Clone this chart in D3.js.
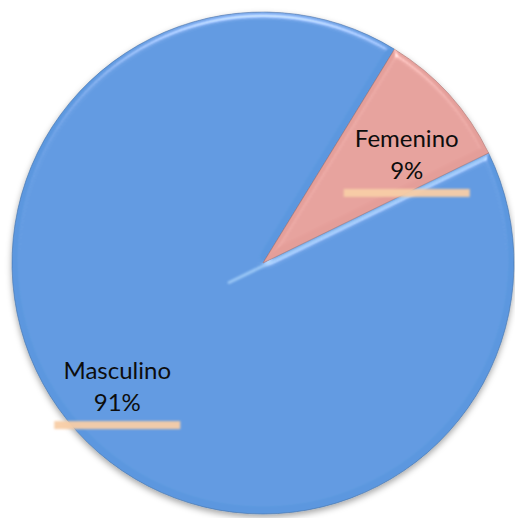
<!DOCTYPE html>
<html>
<head>
<meta charset="utf-8">
<script src="https://cdn.jsdelivr.net/npm/d3@7"></script>
<style>
  body { margin: 0; background: #fff; }
  svg { display: block; }
  .label text { font-family: Lato, "Open Sans", sans-serif; font-size: 24px; fill: #0d0d0d; }
</style>
</head>
<body>
<svg width="515" height="518"></svg>
<script>
// data
var categories = ["Masculino", "Femenino"];
var values = [91, 9];
var colors = ["#5b97df", "#e49e99"];

var svg = d3.select("svg"),
    width = +svg.attr("width"),
    height = +svg.attr("height"),
    cx = 263, cy = 263,
    radius = 251;

var defs = svg.append("defs");

// soft shadow under the pie
var shadow = defs.append("filter").attr("id", "shadow")
    .attr("x", "-10%").attr("y", "-10%").attr("width", "120%").attr("height", "120%");
shadow.append("feDropShadow")
    .attr("dx", 0).attr("dy", 3).attr("stdDeviation", 3)
    .attr("flood-color", "#000").attr("flood-opacity", 0.35);

// bevel-ish rim light on each slice
var bevel = defs.append("filter").attr("id", "bevel")
    .attr("x", "-5%").attr("y", "-5%").attr("width", "110%").attr("height", "110%");
bevel.append("feGaussianBlur").attr("in", "SourceAlpha").attr("stdDeviation", 3).attr("result", "blur");
bevel.append("feSpecularLighting")
    .attr("in", "blur").attr("surfaceScale", 4).attr("specularConstant", 0.7)
    .attr("specularExponent", 30).attr("lighting-color", "#ffffff").attr("result", "spec")
  .append("feDistantLight").attr("azimuth", 270).attr("elevation", 40);
bevel.append("feComposite").attr("in", "spec").attr("in2", "SourceAlpha").attr("operator", "in").attr("result", "specOut");
bevel.append("feComposite").attr("in", "SourceGraphic").attr("in2", "specOut")
    .attr("operator", "arithmetic").attr("k1", 0).attr("k2", 1).attr("k3", 0.6).attr("k4", 0);

// blur for label bands and edge highlight
defs.append("filter").attr("id", "soft")
    .attr("x", "-10%").attr("y", "-50%").attr("width", "120%").attr("height", "200%")
  .append("feGaussianBlur").attr("stdDeviation", 1.2);

var data = categories.map(function(c, i) { return {name: c, value: values[i], color: colors[i]}; });
var total = d3.sum(values);

var start = 64 * Math.PI / 180;
var pie = d3.pie()
    .sort(null)
    .value(function(d) { return d.value; })
    .startAngle(start)
    .endAngle(start + 2 * Math.PI);

var arcs = pie(data);

var arc = d3.arc().innerRadius(0).outerRadius(radius);
var labelArc = d3.arc().innerRadius(radius * 0.73).outerRadius(radius * 0.73);

var g = svg.append("g")
    .attr("transform", "translate(" + cx + "," + cy + ")");

var slices = g.append("g").attr("filter", "url(#shadow)");

slices.selectAll("path")
    .data(arcs)
  .enter().append("path")
    .attr("d", arc)
    .attr("fill", function(d) { return d.data.color; })
    .attr("stroke", function(d) { return d3.color(d.data.color).darker(0.8); })
    .attr("stroke-width", 1)
    .attr("stroke-opacity", 0.6)
    .attr("filter", "url(#bevel)");

// bevel highlight along the big slice's leading edge (runs a bit past the centre)
var a0 = arcs[0].startAngle;
g.append("line")
    .attr("x1", Math.sin(a0) * (radius - 4))
    .attr("y1", -Math.cos(a0) * (radius - 4) + 3)
    .attr("x2", -Math.sin(a0) * radius * 0.15)
    .attr("y2", Math.cos(a0) * radius * 0.15 + 3)
    .attr("stroke", "#a9d3fb")
    .attr("stroke-width", 3)
    .attr("stroke-linecap", "round")
    .attr("stroke-opacity", 0.8)
    .attr("filter", "url(#soft)");

// label nudges, Excel best-fit placement
var nudge = {Masculino: [-10, 1], Femenino: [8, 15]};

var labels = g.selectAll(".label")
    .data(arcs)
  .enter().append("g")
    .attr("class", "label")
    .attr("transform", function(d) {
      var c = labelArc.centroid(d), n = nudge[d.data.name];
      return "translate(" + (c[0] + n[0]) + "," + (c[1] + n[1]) + ")";
    });

labels.append("line")
    .attr("x1", -63).attr("x2", -63).attr("y1", -28).attr("y2", 34)
    .attr("stroke", "#fff").attr("stroke-opacity", 0.6).attr("stroke-width", 2)
    .attr("filter", "url(#soft)");

labels.append("line")
    .attr("x1", 63).attr("x2", 63).attr("y1", -28).attr("y2", 34)
    .attr("stroke", "#fff").attr("stroke-opacity", 0.35).attr("stroke-width", 2)
    .attr("filter", "url(#soft)");

labels.append("rect")
    .attr("x", -63).attr("y", 34)
    .attr("width", 126).attr("height", 8)
    .attr("fill", "#f8cda6").attr("fill-opacity", 0.95)
    .attr("filter", "url(#soft)");

labels.append("text")
    .attr("text-anchor", "middle")
    .attr("y", -8)
    .text(function(d) { return d.data.name; });

labels.append("text")
    .attr("text-anchor", "middle")
    .attr("y", 24)
    .text(function(d) { return Math.round(d.data.value / total * 100) + "%"; });
</script>
</body>
</html>
